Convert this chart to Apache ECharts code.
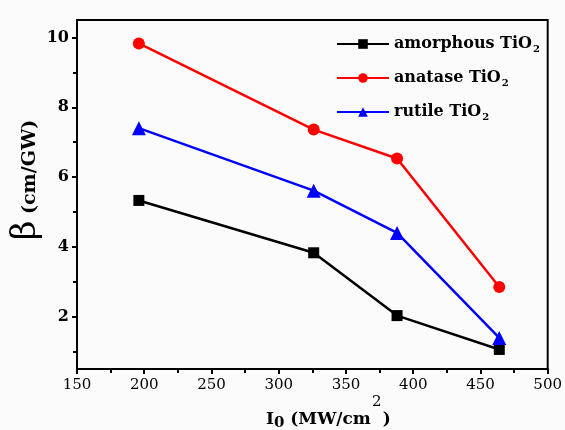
<!DOCTYPE html>
<html><head><meta charset="utf-8">
<script src="https://cdn.jsdelivr.net/npm/echarts@6/dist/echarts.min.js"></script>
<style>html,body{margin:0;padding:0;background:#fbfbfb}#c{width:565px;height:430px}</style>
</head><body><div id="c"></div>
<script>
const intensity = [196, 326, 388, 464];
const amorphous = [5.33, 3.83, 2.03, 1.06];
const anatase = [9.83, 7.36, 6.53, 2.85];
const rutile = [7.40, 5.61, 4.40, 1.39];
const seriesNames = ['amorphous TiO', 'anatase TiO', 'rutile TiO'];
const yMajorTicks = [2, 4, 6, 8, 10];
const yMinorTicks = [1, 3, 5, 7, 9];

const FONT = 'DejaVu Serif';
const chart = echarts.init(document.getElementById('c'));
function pairs(ys){ return intensity.map((x,i)=>[x, ys[i]]); }
const legendRich = {
  t: {fontFamily: FONT, fontSize: 16, fontWeight: 'bold', color: '#000', lineHeight: 20},
  s: {fontFamily: FONT, fontSize: 10, fontWeight: 'bold', color: '#000', verticalAlign: 'bottom', lineHeight: 20, padding: [10,0,0,1]}
};
chart.setOption({
  backgroundColor: '#fbfbfb',
  animation: false,
  grid: {left: 77, right: 15, top: 20, bottom: 61, show: true, borderColor: '#000', borderWidth: 2, backgroundColor: 'transparent'},
  legend: {
    orient: 'vertical', left: 336, top: 34, itemWidth: 52, itemHeight: 12, itemGap: 14, padding: 0,
    data: seriesNames,
    formatter: n => '{t|' + n + '}{s|2}',
    textStyle: {rich: legendRich}
  },
  xAxis: {
    type: 'value', min: 150, max: 500, interval: 50,
    axisLine: {lineStyle: {color: '#000', width: 2}},
    axisTick: {show: true, inside: false, length: 5, lineStyle: {width: 2, color: '#000'}},
    minorTick: {show: true, splitNumber: 2, length: 4, lineStyle: {width: 2, color: '#000'}},
    splitLine: {show: false},
    axisLabel: {fontFamily: FONT, fontSize: 15, color: '#000', margin: 9}
  },
  yAxis: [{
    type: 'value', min: 0.5, max: 10.5,
    axisLine: {show: true, lineStyle: {color: '#000', width: 2}},
    axisTick: {show: true, inside: false, length: 5, customValues: yMajorTicks, lineStyle: {width: 2, color: '#000'}},
    splitLine: {show: false},
    axisLabel: {customValues: yMajorTicks, fontFamily: FONT, fontSize: 16, fontWeight: 'bold', color: '#000', margin: 8}
  }, {
    type: 'value', min: 0.5, max: 10.5, position: 'left',
    axisLine: {show: false},
    axisTick: {show: true, inside: false, length: 4, customValues: yMinorTicks, lineStyle: {width: 2, color: '#000'}},
    splitLine: {show: false},
    axisLabel: {show: false}
  }],
  series: [
    {name: seriesNames[0], type: 'line', data: pairs(amorphous), color: '#000', symbol: 'rect', symbolSize: 11, lineStyle: {width: 2.5}},
    {name: seriesNames[1], type: 'line', data: pairs(anatase), color: '#ff0000', symbol: 'circle', symbolSize: 12, lineStyle: {width: 2.5}},
    {name: seriesNames[2], type: 'line', data: pairs(rutile), color: '#0000ff', symbol: 'triangle', symbolSize: 14, lineStyle: {width: 2.5}}
  ],
  graphic: [
    {type: 'text', x: 26, y: 180, rotation: Math.PI/2, style: {
      text: '{b|β}{u| (cm/GW)}', align: 'center', verticalAlign: 'middle',
      rich: {b: {fontFamily: FONT, fontSize: 34, fill: '#000'}, u: {fontFamily: FONT, fontSize: 19, fontWeight: 'bold', fill: '#000', padding: [9,0,0,0]}}
    }},
    {type: 'text', x: 266, y: 408, style: {
      text: '{i|I}{z|0}{i| (MW/cm  )}',
      rich: {i: {fontFamily: FONT, fontSize: 17, fontWeight: 'bold', fill: '#000'}, z: {fontFamily: FONT, fontSize: 15, fontWeight: 'bold', fill: '#000', padding: [8,0,0,0]}}
    }},
    {type: 'text', x: 372, y: 395, style: {text: '2', fontFamily: FONT, fontSize: 15, fill: '#000'}}
  ]
});
</script></body></html>
